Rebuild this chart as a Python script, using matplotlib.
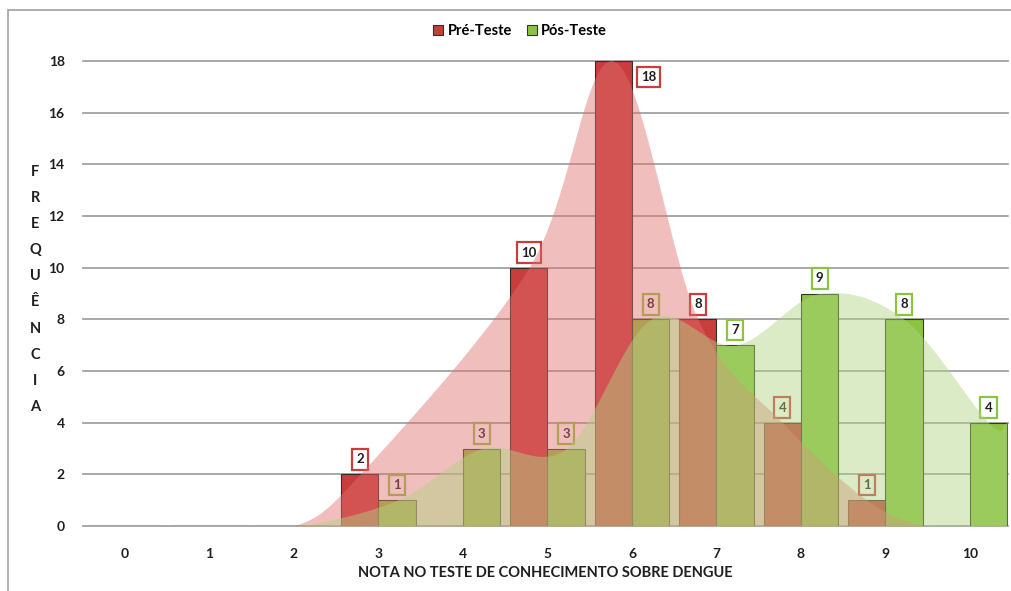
import numpy as np
import matplotlib
matplotlib.use("Agg")
import matplotlib.pyplot as plt
from matplotlib.patches import Patch, Rectangle

plt.rcParams['font.family'] = ['Lato', 'DejaVu Sans']

categories = [0, 1, 2, 3, 4, 5, 6, 7, 8, 9, 10]
pre_teste = [0, 0, 0, 2, 0, 10, 18, 8, 4, 1, 0]
pos_teste = [0, 0, 0, 1, 3, 3, 8, 7, 9, 8, 4]
series_names = ["Pré-Teste", "Pós-Teste"]
ylabel_text = "FREQUÊNCIA"
xlabel_text = "NOTA NO TESTE DE CONHECIMENTO SOBRE DENGUE"

RED = "#C93D3D"
GREEN = "#8DC43F"
RED_AREA = "#E07070"
GREEN_AREA = "#B0D482"

W = 0.44
OFF = 0.22


def catmull_rom(xs, ys, n=60):
    xs = np.asarray(xs, float)
    ys = np.asarray(ys, float)
    px = np.concatenate([[2 * xs[0] - xs[1]], xs, [2 * xs[-1] - xs[-2]]])
    py = np.concatenate([[ys[0]], ys, [ys[-1]]])
    outx, outy = [], []
    for i in range(1, len(px) - 2):
        t = np.linspace(0, 1, n)
        for arr, out in ((px, outx), (py, outy)):
            p0, p1, p2, p3 = arr[i - 1], arr[i], arr[i + 1], arr[i + 2]
            out.append(0.5 * ((2 * p1) + (-p0 + p2) * t + (2 * p0 - 5 * p1 + 4 * p2 - p3) * t ** 2
                              + (-p0 + 3 * p1 - 3 * p2 + p3) * t ** 3))
    return np.concatenate(outx), np.clip(np.concatenate(outy), 0, None)


fig = plt.figure(figsize=(10.11, 5.91), dpi=100)
fig.patches.append(Rectangle((8 / 1011, -0.1), 1.2, 1 - 10 / 591 + 0.1, transform=fig.transFigure,
                             fill=False, edgecolor="#A0A0A0", lw=1.2))

ax = fig.add_axes([82.75 / 1011, 65 / 591, (1008 - 82.75) / 1011, (526 - 61) / 591])
x = np.array(categories, float)
pre = np.array(pre_teste, float)
pos = np.array(pos_teste, float)

ax.bar(x - OFF, pre, width=W, color=RED, edgecolor="#3a2a2a", lw=0.8, zorder=2)
ax.bar(x + OFF, pos, width=W, color=GREEN, edgecolor="#2f3a25", lw=0.8, zorder=2)

rm = pre > 0
rx = np.concatenate([[2.0], (x - OFF)[rm], [9.5]])
ry = np.concatenate([[0], pre[rm], [0]])
cx, cy = catmull_rom(rx, ry)
ax.fill_between(cx, 0, cy, color=RED_AREA, alpha=0.45, lw=0, zorder=4)

gm = pos > 0
gx = np.concatenate([[2.0], (x + OFF)[gm], [10.0 + OFF + W / 2]])
gy = np.concatenate([[0], pos[gm], [pos[-1]]])
cx, cy = catmull_rom(gx, gy)
ax.fill_between(cx, 0, cy, color=GREEN_AREA, alpha=0.45, lw=0, zorder=4)


def label(xp, v, ec, dx=0, dy=15):
    ax.annotate(f"{int(v)}", (xp, v), xytext=(dx, dy), textcoords="offset pixels",
                ha="center", va="center", fontsize=9.5, fontweight="bold", color="#1f1f1f",
                bbox=dict(boxstyle="square,pad=0.32", fc="white", ec=ec, lw=1.6), zorder=3)


for xi, v in zip(x, pre):
    if v > 0:
        if v >= 18:
            label(xi - OFF, v, RED, dx=35, dy=-16)
        else:
            label(xi - OFF, v, RED)
for xi, v in zip(x, pos):
    if v > 0:
        label(xi + OFF, v, GREEN)

ax.set_xlim(-0.5, 10.45)
ax.set_ylim(0, 18)
ax.set_yticks(range(0, 19, 2))
ax.set_xticks(categories)
ax.set_xticklabels([str(c) for c in categories])
ax.grid(axis="y", color="#9a9a9a", lw=1.2, zorder=0)
ax.set_axisbelow(True)
for s in ax.spines.values():
    s.set_visible(False)
ax.tick_params(axis="both", length=0, labelsize=10, colors="#1f1f1f")
ax.tick_params(axis="y", pad=13)
ax.tick_params(axis="x", pad=16)
for lab in ax.get_xticklabels() + ax.get_yticklabels():
    lab.set_fontweight("bold")
for gl in ax.get_ygridlines():
    gl.set_clip_on(False)

ax.set_xlabel(xlabel_text, fontsize=10.5, fontweight="bold", color="#1f1f1f", labelpad=4)

for i, ch in enumerate(ylabel_text):
    fig.text(35 / 1011, 1 - (172 + i * 26.1) / 591, ch, ha="center", va="center",
             fontsize=10.5, fontweight="bold", color="#1f1f1f")

handles = [Patch(facecolor=RED, edgecolor="#3a2a2a", lw=0.8),
           Patch(facecolor=GREEN, edgecolor="#2f3a25", lw=0.8)]
fig.legend(handles, series_names, loc="center", bbox_to_anchor=(520 / 1011, 1 - 31 / 591), ncol=2,
           frameon=False, prop=dict(size=10.5, weight="bold"), handlelength=0.7, handleheight=0.7,
           handletextpad=0.3, columnspacing=1.0)

fig.savefig("out.png", dpi=100)
